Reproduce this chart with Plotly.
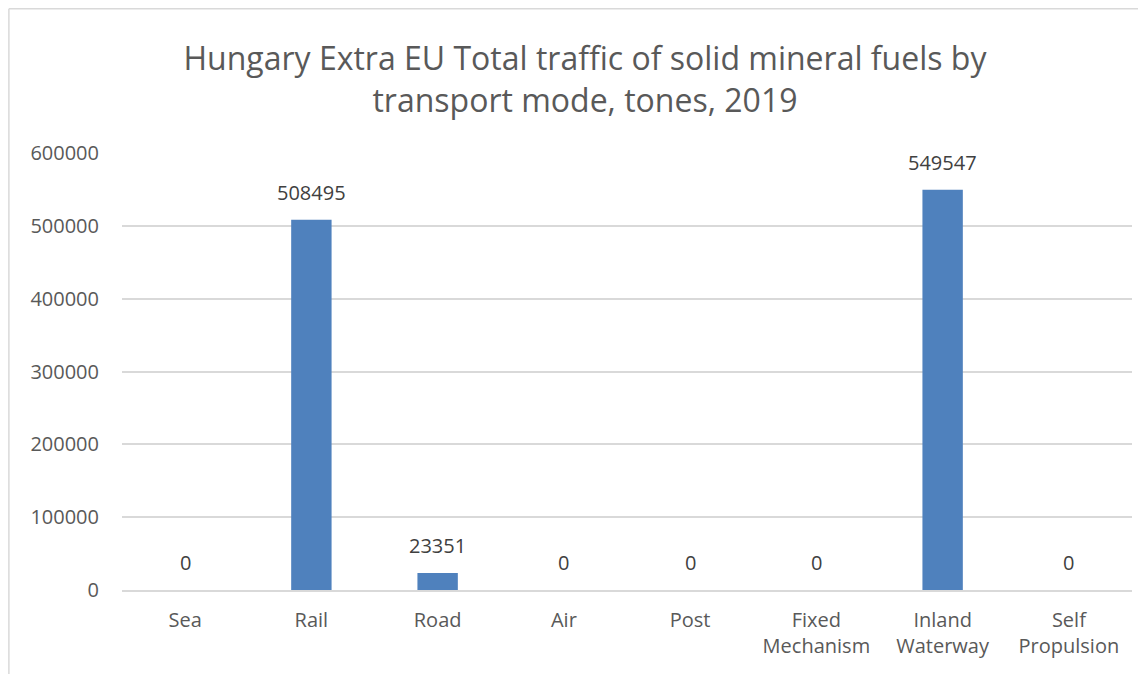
import plotly.graph_objects as go

modes = ["Sea", "Rail", "Road", "Air", "Post", "Fixed<br>Mechanism", "Inland<br>Waterway", "Self<br>Propulsion"]
tonnes = [0, 508495, 23351, 0, 0, 0, 549547, 0]
y_ticks = [0, 100000, 200000, 300000, 400000, 500000, 600000]

fig = go.Figure()
fig.add_trace(go.Bar(x=modes, y=tonnes, marker_color="#4F81BD", marker_line_width=0))

# value labels above each bar
for m, v in zip(modes, tonnes):
    fig.add_annotation(x=m, y=v, text=str(v), showarrow=False, yanchor="bottom", yshift=12,
                       font=dict(size=20, color="#404040"))

fig.update_layout(
    width=1138, height=666,
    margin=dict(l=114, r=14, t=145, b=84),
    paper_bgcolor="white", plot_bgcolor="white",
    font=dict(family="Open Sans", color="#595959"),
    title=dict(text="Hungary Extra EU Total traffic of solid mineral fuels by<br>transport mode, tones, 2019",
               x=0.507, xanchor="center", y=0.907, yanchor="top",
               font=dict(size=32, color="#595959")),
    bargap=0.68, showlegend=False,
    shapes=[
        dict(type="line", xref="paper", yref="paper", x0=-0.112, x1=-0.112, y0=-0.2, y1=1.33,
             line=dict(color="#D9D9D9", width=1.5)),
        dict(type="line", xref="paper", yref="paper", x0=-0.112, x1=1.02, y0=1.33, y1=1.33,
             line=dict(color="#D9D9D9", width=1.5)),
    ],
)
fig.update_yaxes(range=[0, 600000], tickvals=y_ticks, ticktext=[str(v) for v in y_ticks],
                 showgrid=True, gridcolor="#D9D9D9", gridwidth=1.5, zeroline=False,
                 tickfont=dict(size=20, color="#595959"), ticklabelstandoff=22)
fig.update_xaxes(showline=True, linecolor="#D9D9D9", linewidth=1.5,
                 tickfont=dict(size=20, color="#595959"), ticklabelstandoff=11)

fig.write_html("out.html")
